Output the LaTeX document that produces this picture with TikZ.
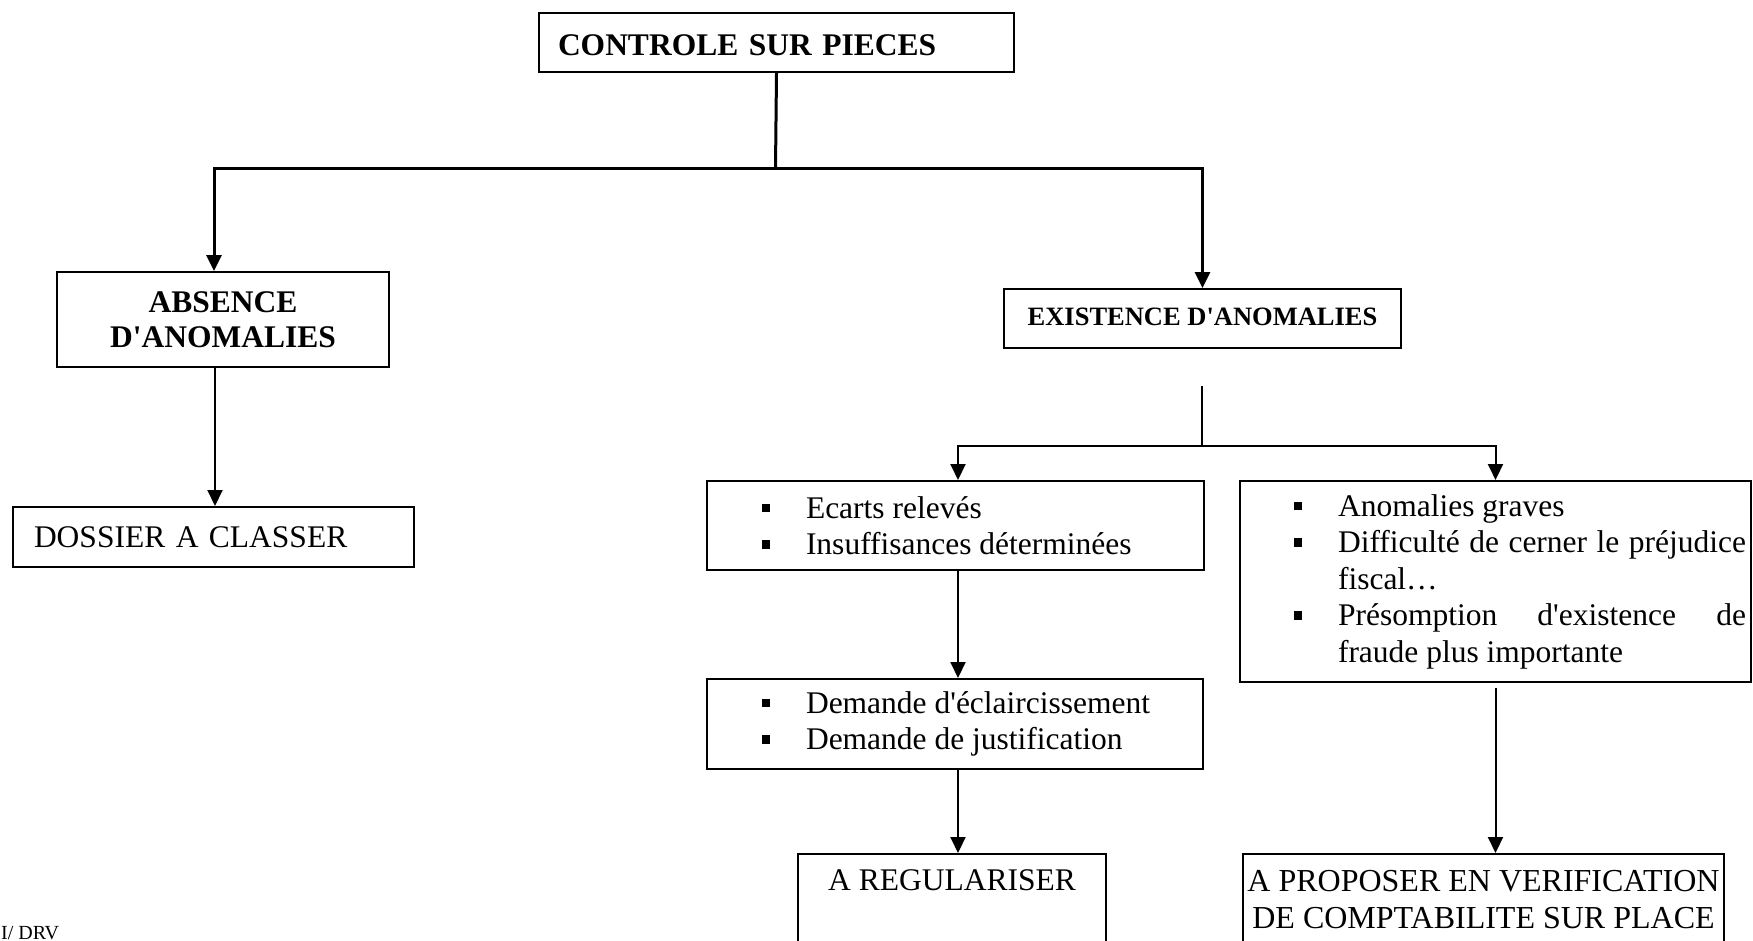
\documentclass[tikz,border=0pt]{standalone}
\usepackage{fontspec}
\setmainfont{Liberation Serif}[Ligatures=TeXOff]
\usetikzlibrary{arrows.meta}
\newcommand{\bul}{\leavevmode\llap{\raisebox{6pt}{\rule{8.5pt}{8.5pt}}\hspace{36pt}}}
\begin{document}
\begin{tikzpicture}[x=1pt,y=-1pt,
  box/.style={draw,line width=2pt,anchor=north west,inner sep=0pt,font=\fontsize{31.5}{36.5}\selectfont},
  bbox/.style={box,font=\fontsize{31.5}{35.5}\selectfont\bfseries},
  thickconn/.style={line width=3pt},
  conn/.style={line width=2pt},
  arr/.style={-{Triangle[width=15pt,length=16pt]}},
]
\useasboundingbox (0,0) rectangle (1753,940);

% boxes
\node[bbox, minimum width=475pt, minimum height=59pt, text width=437pt, inner xsep=19pt, align=left, text height=25pt, text depth=0pt] (top) at (538,12) {CONTROLE SUR PIECES};
\node[bbox, minimum width=332pt, minimum height=95pt, align=center] (abs) at (56,271) {ABSENCE\\D'ANOMALIES};
\node[box, font=\fontsize{26.5}{30}\selectfont\bfseries, minimum width=397pt, minimum height=59pt, text depth=4pt] (exi) at (1003,288) {EXISTENCE D'ANOMALIES};
\node[box, minimum width=401pt, minimum height=60pt, text width=359pt, inner xsep=21pt, align=left] (dos) at (12,506) {DOSSIER A CLASSER};
\node[box, minimum width=497pt, minimum height=89pt] (eca) at (706,480)
  {\parbox{497pt}{\leftskip=99pt \parindent=0pt \bul Ecarts relevés\par \bul Insuffisances déterminées}};
\node[box, minimum width=496pt, minimum height=90pt] (dem) at (706,678)
  {\parbox{496pt}{\leftskip=99pt \parindent=0pt \bul Demande d'éclaircissement\par \bul Demande de justification}};
\node[box, minimum width=511pt, minimum height=201pt] (ano) at (1239,480)
  {\parbox{511pt}{\leftskip=98pt \rightskip=5pt \parindent=0pt \hyphenpenalty=10000 \bul Anomalies graves\par \bul Difficulté de cerner le préjudice\linebreak fiscal…\par \bul Présomption d'existence de\linebreak fraude plus importante}};
\node[box, minimum width=308pt, inner ysep=16pt] (reg) at (797,853)
  {\parbox[t][100pt][t]{308pt}{\centering A REGULARISER}};
\node[box, minimum width=481pt, inner ysep=16pt, font=\fontsize{32}{37}\selectfont] (pro) at (1242,853)
  {\parbox[t][100pt][t]{481pt}{\centering A PROPOSER EN VERIFICATION\\DE COMPTABILITE SUR PLACE}};
\node[anchor=base west, inner sep=0pt, font=\fontsize{20}{24}\selectfont] (drv) at (1,939) {I/ DRV};

% connectors
\coordinate (j1) at (775.5,168);
\draw[thickconn] (top.south) -- (j1);
\draw[thickconn, arr] (j1) -| ([xshift=-9pt]abs.north);
\draw[thickconn, arr] (j1) -| (exi.north);
\draw[conn, arr] ([xshift=-8pt]abs.south) -- ([xshift=-8pt]abs.south |- dos.north);

\coordinate (e1) at (1202,386);
\coordinate (j2) at (1202,446);
\draw[line width=1.5pt] (e1) -- (j2);
\draw[conn, arr] (j2) -| ([xshift=2.5pt]eca.north);
\draw[conn, arr] (j2) -| (ano.north);
\draw[conn, arr] ([xshift=2.5pt]eca.south) -- ([xshift=2.5pt]eca.south |- dem.north);
\draw[conn, arr] ([xshift=3pt]dem.south) -- ([xshift=3pt]dem.south |- reg.north);
\draw[conn, arr] ([yshift=-5pt]ano.south) -- (ano.south |- pro.north);
\end{tikzpicture}
\end{document}
